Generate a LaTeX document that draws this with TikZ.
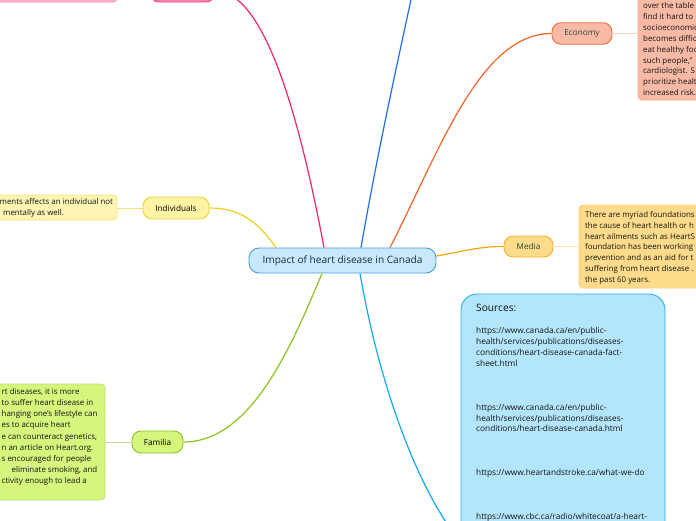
\documentclass[tikz,border=0pt]{standalone}
\usepackage{fontspec}
\setmainfont{Open Sans}
\definecolor{cpink}{HTML}{F5246F}
\definecolor{cblue}{HTML}{1F6FE5}
\definecolor{corange}{HTML}{F4622A}
\definecolor{cyellow}{HTML}{EFCF1E}
\definecolor{cmedia}{HTML}{F7A800}
\definecolor{cgreen}{HTML}{8DC21F}
\definecolor{csky}{HTML}{14AAF0}
\definecolor{ecofill}{HTML}{F9BAA5}
\definecolor{ecoline}{HTML}{F26B3A}
\definecolor{ecosub}{HTML}{FCD2C4}
\definecolor{indfill}{HTML}{FFF3A6}
\definecolor{indline}{HTML}{EDD23A}
\definecolor{indbfill}{HTML}{FFF5B2}
\definecolor{indbline}{HTML}{F6E27C}
\definecolor{medfill}{HTML}{FDDB8A}
\definecolor{medline}{HTML}{F5B42A}
\definecolor{medbline}{HTML}{FBD07E}
\definecolor{medsub}{HTML}{FDE6B4}
\definecolor{famfill}{HTML}{D5F57C}
\definecolor{famline}{HTML}{8FC229}
\definecolor{fambline}{HTML}{BCE266}
\definecolor{famsub}{HTML}{BDE28A}
\definecolor{cenfill}{HTML}{C8E9FB}
\definecolor{cenline}{HTML}{4A9BDE}
\definecolor{srcfill}{HTML}{B3E5FC}
\definecolor{srcline}{HTML}{2BB0EE}
\definecolor{pkfill}{HTML}{FFB0CC}
\definecolor{pkline}{HTML}{FF8AB5}
\definecolor{pknfill}{HTML}{FF86B0}
\definecolor{pknline}{HTML}{F5407F}
\definecolor{cent}{HTML}{1B2A48}
\definecolor{greentxt}{HTML}{1E4D3A}
\definecolor{txt}{HTML}{141414}
\begin{document}
\begin{tikzpicture}[x=1pt,y=-1pt,
  pill/.style={draw, rounded corners=9pt, line width=0.9pt, inner sep=0pt, font=\fontsize{8.2}{9}\selectfont},
  tbox/.style={draw, rounded corners=4pt, line width=0.8pt, inner sep=0pt},
  body/.style={anchor=base west, inner sep=0pt, font=\fontsize{7.9}{9}\selectfont, text=txt},
  urltxt/.style={anchor=base west, inner sep=0pt, font=\fontsize{8.3}{9}\selectfont, text=txt},
  conn/.style={line width=1.2pt},
  sub/.style={line width=1pt}]
\useasboundingbox (0,0) rectangle (696,520);
\clip (0,0) rectangle (696,520);
\fill[white] (0,0) rectangle (696,520);

% text boxes
\node[tbox, fill=pkfill, draw=pkline, minimum width=177pt, minimum height=42pt] (pkbox) at (28.5,-19) {};
\node[tbox, fill=ecofill, draw=ecofill!80!ecoline, minimum width=122pt, minimum height=140pt] (ecobox) at (699,30) {};
\node[tbox, fill=indbfill, draw=indbline, minimum width=167pt, minimum height=25pt] (indbox) at (33.5,207.5) {};
\node[tbox, fill=medfill, draw=medbline, minimum width=181pt, minimum height=83pt] (medbox) at (669.5,246.5) {};
\node[tbox, fill=famfill, draw=fambline, minimum width=155pt, minimum height=116pt] (fambox) at (27.5,442) {};
\node[draw=srcline, fill=srcfill, rounded corners=16pt, line width=0.9pt, minimum width=204pt, minimum height=326pt, inner sep=0pt] (srcbox) at (563,457) {};
\coordinate (srcin) at (463,545);
\coordinate (bluetop) at (412,-5);

% main nodes
\node[pill, fill=cenfill, draw=cenline, rounded corners=10pt, minimum width=187pt, minimum height=25pt, text=cent, font=\fontsize{10.1}{12}\selectfont] (cen) at (342.5,260.5) {Impact of heart disease in Canada};
\node[pill, fill=ecofill, draw=ecoline, minimum width=60pt, minimum height=21.5pt, text=greentxt] (eco) at (582,33.5) {Economy};
\node[pill, fill=indfill, draw=indline, minimum width=66pt, minimum height=22pt, text=black] (ind) at (176,208) {Individuals};
\node[pill, fill=medfill, draw=medline, minimum width=49pt, minimum height=21pt, text=greentxt] (med) at (528.5,246.5) {Media};
\node[pill, fill=famfill, draw=famline, minimum width=51pt, minimum height=22pt, text=black] (fam) at (157.5,442) {Familia};
\node[pill, fill=pknfill, draw=pknline, minimum width=65pt, minimum height=22pt] (pk) at (182.5,-9) {};

% sub connectors
\draw[sub, ecosub] (eco.east) -- (eco.east -| ecobox.west);
\draw[sub, indbline] (ind.west) -- (ind.west -| indbox.east);
\draw[sub, medsub] (med.east) -- (med.east -| medbox.west);
\draw[sub, famsub] (fam.west) -- (fam.west -| fambox.east);

% main connectors
\draw[conn, cpink] ([xshift=-18.5pt]cen.north) .. controls (300,120) and (265,-9) .. (pk.east);
\draw[conn, cblue] ([xshift=18.5pt]cen.north) .. controls (378,150) and (398,60) .. (bluetop);
\draw[conn, corange] ([xshift=47.5pt]cen.north) .. controls (440,150) and (480,33.5) .. (eco.west);
\draw[conn, cyellow] ([xshift=-66.5pt]cen.north) .. controls (258,222) and (240,208) .. (ind.east);
\draw[conn, cmedia] ([yshift=4.5pt]cen.east) .. controls (470,250) and (480,246.5) .. (med.west);
\draw[conn, cgreen] ([xshift=-20.5pt]cen.south) .. controls (290,350) and (250,442) .. (fam.east);
\draw[conn, csky] ([xshift=17.5pt]cen.south) .. controls (382,400) and (424,500) .. (srcin);

% economy text
\foreach \t [count=\i from 0] in {{over the table},{find it hard to},{socioeconomic},{becomes diffic},{eat healthy foo},{such people,”},{cardiologist. S},{prioritize healt},{increased risk.}}
  \node[body] (ecot\i) at (643,8.5+\i*10.9) {\t};

% media text
\foreach \t [count=\i from 0] in {{There are myriad foundations},{the cause of heart health or h},{heart ailments such as HeartS},{foundation has been working},{prevention and as an aid for t},{suffering from heart disease .},{the past 60 years.}}
  \node[body] (medt\i) at (585,217.5+\i*10.83) {\t};

% individuals text
\node[body] (indt0) at (-0.5,204.8) {ments affects an individual not};
\node[body] (indt1) at (3,215.2) {mentally as well.};

% familia text
\foreach \t [count=\i from 0] in {{rt diseases, it is more},{to suffer heart disease in},{hanging one’s lifestyle can},{es to acquire heart},{e can counteract genetics,},{n an article on Heart.org.},{s encouraged for people},{\hspace*{10pt}eliminate smoking, and},{ctivity enough to lead a}}
  \node[body] (famt\i) at (1.5,394.2+\i*11.2) {\t};

% sources text
\node[anchor=base west, inner sep=0pt, font=\fontsize{10.2}{12}\selectfont, text=txt] (srct) at (476,311) {Sources:};
\foreach \k/\t in {0/{https://www.canada.ca/en/public-},1/{health/services/publications/diseases-},2/{conditions/heart-disease-canada-fact-},3/{sheet.html},7/{https://www.canada.ca/en/public-},8/{health/services/publications/diseases-},9/{conditions/heart-disease-canada.html},13/{https://www.heartandstroke.ca/what-we-do},17/{https://www.cbc.ca/radio/whitecoat/a-heart-}}
  \node[urltxt] (src\k) at (476,333.4+\k*10.95) {\t};
\end{tikzpicture}
\end{document}
